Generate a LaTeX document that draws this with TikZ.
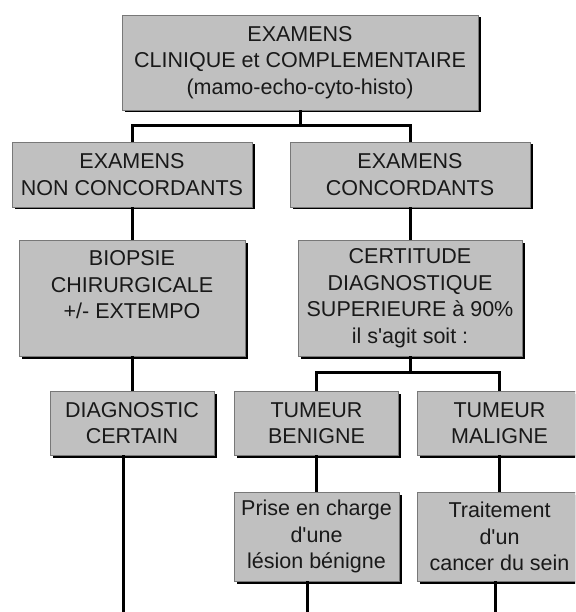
\documentclass[tikz,border=0pt]{standalone}
\usepackage{fontspec}
\setmainfont{Liberation Sans}
\usetikzlibrary{shadows}
\definecolor{boxfill}{RGB}{192,192,192}
\definecolor{boxedge}{RGB}{120,120,120}
\begin{document}
\begin{tikzpicture}[x=1pt,y=-1pt,
  card/.style={draw=boxedge, line width=0.6pt, fill=boxfill, align=center,
    inner sep=0pt, text=black!90,
    font=\fontsize{21.5}{26.5}\selectfont,
    drop shadow={shadow xshift=2.5pt, shadow yshift=-2.5pt, fill=black, opacity=1}},
  link/.style={line width=3pt, black}]
\useasboundingbox (0,0) rectangle (575,612);
\clip (0,0) rectangle (575,612);

% boxes of the decision tree
\node[card, minimum width=356pt, minimum height=95pt] (top) at (300,62.5)
  {EXAMENS\\CLINIQUE et COMPLEMENTAIRE\\(mamo-echo-cyto-histo)};
\node[card, minimum width=240pt, minimum height=65pt] (l2) at (132,174.5)
  {EXAMENS\\NON CONCORDANTS};
\node[card, minimum width=240pt, minimum height=65pt] (r2) at (410,174.5)
  {EXAMENS\\CONCORDANTS};
\node[card, minimum width=226pt, minimum height=116pt] (biopsie) at (132,298)
  {BIOPSIE\\CHIRURGICALE\\+/- EXTEMPO\\\mbox{}};
\node[card, minimum width=224pt, minimum height=116pt] (certitude) at (410,298)
  {CERTITUDE\\DIAGNOSTIQUE\\SUPERIEURE à 90\%\\il s\textquotesingle agit soit :};
\node[card, minimum width=164pt, minimum height=64pt] (diag) at (132,423)
  {DIAGNOSTIC\\CERTAIN};
\node[card, minimum width=164pt, minimum height=64pt] (benigne) at (316.5,423)
  {TUMEUR\\BENIGNE};
\node[card, minimum width=164pt, minimum height=64pt] (maligne) at (499.5,423)
  {TUMEUR\\MALIGNE};
\node[card, minimum width=165pt, minimum height=89pt] (prise) at (316.5,536.5)
  {Prise en charge\\d\textquotesingle une\\lésion bénigne};
\node[card, minimum width=165pt, minimum height=89pt] (traite) at (499.5,536.5)
  {Traitement\\d\textquotesingle un\\cancer du sein};

% connectors
\draw[link] (top.south) -- +(0,15) -| (l2.north);
\draw[link] (top.south) -- +(0,15) -| (r2.north);
\draw[link] (l2.south) -- (biopsie.north);
\draw[link] (r2.south) -- (certitude.north);
\draw[link] (biopsie.south) -- (diag.north);
\draw[link] (certitude.south) -- +(0,16) -| (benigne.north);
\draw[link] (certitude.south) -- +(0,16) -| (maligne.north);
\draw[link] (benigne.south) -- (prise.north);
\draw[link] (maligne.south) -- (traite.north);

% open ends running off the bottom
\coordinate (d1) at (123,612);
\coordinate (d2) at (307,612);
\coordinate (d3) at (495,612);
\draw[link] (diag.south -| d1) -- (d1);
\draw[link] (prise.south -| d2) -- (d2);
\draw[link] (traite.south -| d3) -- (d3);
\end{tikzpicture}
\end{document}
